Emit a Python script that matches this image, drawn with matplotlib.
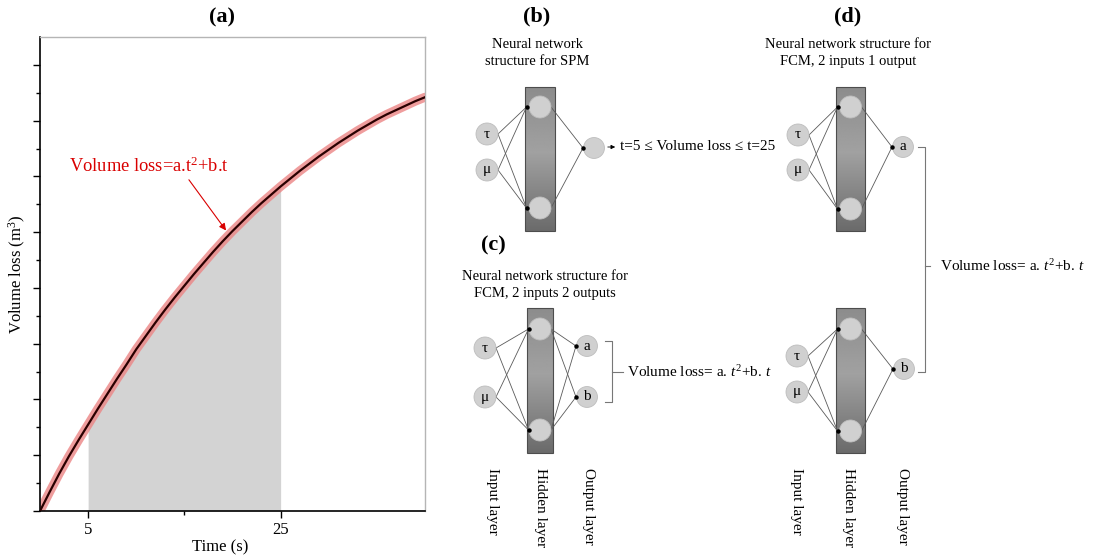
import numpy as np
import matplotlib.pyplot as plt
from matplotlib.patches import Circle, Rectangle

plt.rcParams['font.family'] = ['Liberation Serif', 'DejaVu Serif']
plt.rcParams['mathtext.fontset'] = 'custom'
plt.rcParams['mathtext.rm'] = 'Liberation Serif'
plt.rcParams['mathtext.it'] = 'Liberation Serif:italic'
plt.rcParams['mathtext.bf'] = 'Liberation Serif:bold'

# volume loss curve (arbitrary units) against time in seconds
time_s = np.arange(0, 41)
volume_loss = np.array([
    0.00, 0.34, 0.67, 0.98, 1.27, 1.55, 1.83, 2.10, 2.37, 2.63,
    2.90, 3.14, 3.38, 3.61, 3.83, 4.04, 4.25, 4.45, 4.65, 4.84,
    5.02, 5.19, 5.36, 5.52, 5.67, 5.82, 5.96, 6.10, 6.23, 6.36,
    6.48, 6.60, 6.71, 6.82, 6.92, 7.02, 7.11, 7.19, 7.27, 7.35,
    7.42,
])
shade_start, shade_end = 5, 25
x_ticks = [5, 25]
x_minor = [15]

W, H = 1095, 559
fig = plt.figure(figsize=(W / 100, H / 100), dpi=100)

# ---- panel (a): volume loss curve ----
ax = fig.add_axes([40 / W, (H - 511) / H, 385 / W, 474 / H])
mask = (time_s >= shade_start) & (time_s <= shade_end)
ax.fill_between(time_s, volume_loss, where=mask, color='#d3d3d3', lw=0, zorder=1)
ax.plot(time_s, volume_loss, color='#ec8585', lw=6.5, alpha=0.8,
        solid_capstyle='round', zorder=2)
ax.plot(time_s, volume_loss, color='#2a0000', lw=1.6, zorder=3)

ax.set_xlim(0, 40)
ax.set_ylim(0, 8.5)
ax.set_xticks(x_ticks)
ax.set_xticks(x_minor, minor=True)
ax.set_yticks(np.arange(0, 9, 1))
ax.set_yticks(np.arange(0.5, 8.5, 1), minor=True)
ax.set_yticklabels([])
ax.tick_params(axis='both', which='major', direction='out', length=5, width=1,
               labelsize=12, pad=3)
ax.tick_params(axis='both', which='minor', direction='out', length=3, width=1)
for side in ['left', 'bottom']:
    ax.spines[side].set_linewidth(1.2)
for side in ['top', 'right']:
    ax.spines[side].set_color('#b5b5b5')
    ax.spines[side].set_linewidth(1.0)

ax.text(3.0, 6.19, 'Volume loss=a.t$^2$+b.t', color='#d90000', fontsize=13.3,
        ha='left', va='center', zorder=4)
ax.annotate('', xy=(19.5, 4.99), xytext=(15.3, 5.98),
            arrowprops=dict(arrowstyle='-|>', color='#d90000', lw=0.8,
                            mutation_scale=10), zorder=4)

# ---- overlay in pixel coordinates for labels and network diagrams ----
ov = fig.add_axes([0, 0, 1, 1], zorder=2)
ov.axis('off')

ov.text(222, 17, '(a)', fontsize=16, fontweight='bold', ha='center', va='center')
ov.text(17, 274, 'Volume loss (m$^3$)', fontsize=12, rotation=90,
        ha='center', va='center')
ov.text(220, 547, 'Time (s)', fontsize=12, ha='center', va='center')

LINE = '#5a5a5a'
NODE = '#d0d0d0'
NODE_EDGE = '#bdbdbd'

# vertical shading of the hidden-layer bar: mid grey, lighter band, darker base
bar_shade = np.concatenate([np.linspace(0.55, 0.63, 45), np.linspace(0.63, 0.42, 55)])
bar_img = np.repeat(bar_shade[:, None], 2, axis=1)


def node(x, y, r, label=None):
    ov.add_patch(Circle((x, y), r, facecolor=NODE, edgecolor=NODE_EDGE,
                        lw=0.6, zorder=4))
    if label:
        ov.text(x, y, label, fontsize=11, ha='center', va='center', zorder=5)


def network(x_in, in_ys, bar, hid_ys, x_out, outs, r=11):
    x0, x1, y0, y1 = bar
    x_hid = (x0 + x1) / 2
    ov.imshow(bar_img, cmap='gray', vmin=0, vmax=1, extent=(x0, x1, y1, y0),
              aspect='auto', interpolation='bilinear', zorder=2)
    ov.add_patch(Rectangle((x0, y0), x1 - x0, y1 - y0, fill=False,
                           edgecolor='#4d4d4d', lw=0.8, zorder=3))
    for yi, lab in zip(in_ys, ['τ', 'μ']):
        for yh in hid_ys:
            ov.plot([x_in + r, x0 + 1.5], [yi, yh], color=LINE, lw=0.6, zorder=3)
        node(x_in, yi, r, lab)
    for yh in hid_ys:
        ov.plot([x0 + 1.5], [yh], 'o', ms=2.2, color='black', zorder=5)
        node(x_hid, yh, r)
    for yo, lab in outs:
        for yh in hid_ys:
            ov.plot([x_hid + r, x_out - r], [yh, yo], color=LINE, lw=0.6, zorder=3)
        ov.plot([x_out - r], [yo], 'o', ms=2.2, color='black', zorder=5)
        node(x_out, yo, r * 0.95, lab)


def header(x, y, tag, lines, gap=36):
    ov.text(x, y, tag, fontsize=16, fontweight='bold', ha='center', va='center')
    ov.text(x, y + gap, lines, fontsize=10.5, ha='center', va='center',
            linespacing=1.4)


def layer_labels(xs, top=468):
    for x, lab in zip(xs, ['Input layer', 'Hidden layer', 'Output layer']):
        ov.text(x, top, lab, fontsize=11, rotation=-90, ha='center', va='top')


# (b) single output network for SPM
header(537, 16, '(b)', 'Neural network\nstructure for SPM', gap=37)
network(487, [134, 170], (525, 555, 87, 231), [107, 208], 594, [(148, None)], r=11)
ov.annotate('', xy=(618, 147), xytext=(605, 147),
            arrowprops=dict(arrowstyle='-|>', color='black', lw=0.6,
                            mutation_scale=6))
ov.text(620, 147, 't=5 ≤ Volume loss ≤ t=25', fontsize=11, ha='left', va='center')

# (c) two inputs, two outputs
ov.text(493, 245, '(c)', fontsize=16, fontweight='bold', ha='center', va='center')
ov.text(545, 285, 'Neural network structure for\nFCM, 2 inputs 2 outputs',
        fontsize=10.5, ha='center', va='center', linespacing=1.4)
network(485, [348, 397], (527, 553, 308, 453), [329, 430], 587,
        [(346, 'a'), (397, 'b')], r=11)
ov.plot([605, 611.5, 611.5, 605], [341, 341, 402, 402], color='#777777', lw=0.8)
ov.plot([611.5, 623], [372, 372], color='#777777', lw=0.8)
ov.text(627, 372, 'Volume loss= a. $t^2$+b. $t$', fontsize=11, ha='left', va='center')
layer_labels([492, 540, 589])

# (d) two inputs, one output, one network per coefficient
header(848, 16, '(d)', 'Neural network structure for\nFCM, 2 inputs 1 output', gap=37)
network(798, [135, 170], (836, 865, 87, 231), [107, 209], 903, [(147, 'a')], r=11)
network(797, [356, 392], (836, 865, 308, 453), [329, 431], 904, [(369, 'b')], r=11)
ov.plot([918, 924.5, 924.5, 918], [147, 147, 372, 372], color='#777777', lw=0.8)
ov.plot([924.5, 930], [266, 266], color='#777777', lw=0.8)
ov.text(940, 266, 'Volume loss= a. $t^2$+b. $t$', fontsize=11, ha='left', va='center')
layer_labels([797, 848, 902])

ov.set_xlim(0, W)
ov.set_ylim(H, 0)

fig.savefig('out.png', dpi=100)
